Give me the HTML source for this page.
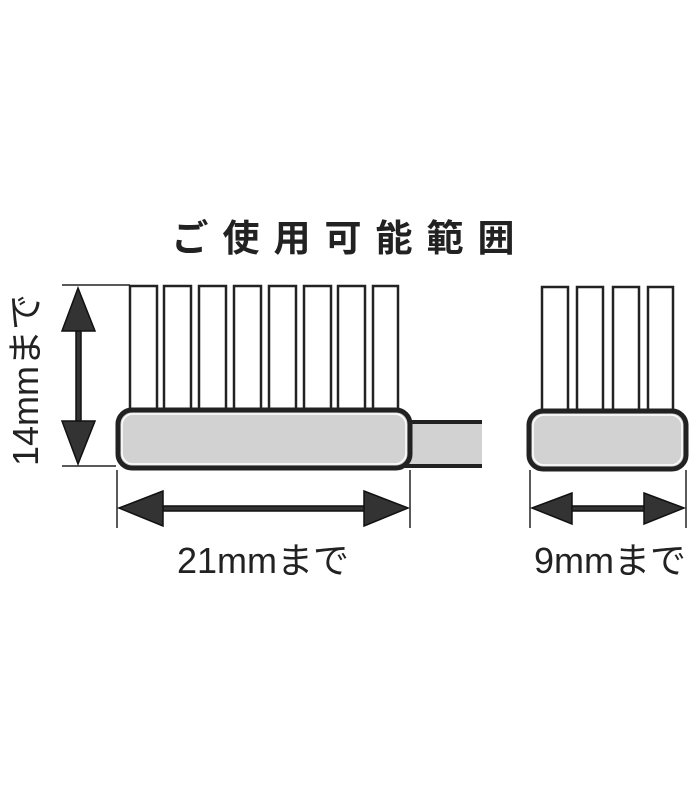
<!DOCTYPE html>
<html><head><meta charset="utf-8"><style>
html,body{margin:0;padding:0;background:#fff;width:700px;height:800px;overflow:hidden}
svg{display:block}
text{font-family:"Liberation Sans","Noto Sans CJK JP",sans-serif;fill:#222}
</style></head><body>
<svg width="700" height="800" viewBox="0 0 700 800" xmlns="http://www.w3.org/2000/svg">
<text x="350" y="251" font-size="37" font-weight="bold" text-anchor="middle" letter-spacing="14">ご使用可能範囲</text>

<!-- left bristles -->
<g fill="#fff" stroke="#222" stroke-width="2.5">
<rect x="130" y="286" width="27" height="130"/>
<rect x="164" y="286" width="27" height="130"/>
<rect x="199" y="286" width="27" height="130"/>
<rect x="234" y="286" width="27" height="130"/>
<rect x="269" y="286" width="27" height="130"/>
<rect x="304" y="286" width="27" height="130"/>
<rect x="338" y="286" width="27" height="130"/>
<rect x="373" y="286" width="25" height="130"/>
</g>
<!-- handle -->
<rect x="400" y="422" width="82" height="44" fill="#d2d2d2"/>
<line x1="400" y1="422" x2="482" y2="422" stroke="#222" stroke-width="4"/>
<line x1="400" y1="466" x2="482" y2="466" stroke="#222" stroke-width="4"/>
<!-- left head -->
<rect x="118" y="410" width="292" height="58" rx="14" fill="#d2d2d2" stroke="#222" stroke-width="5"/>
<rect x="122" y="414" width="284" height="50" rx="11" fill="none" stroke="#fff" stroke-width="1.5"/>

<!-- right bristles -->
<g fill="#fff" stroke="#222" stroke-width="2.5">
<rect x="542" y="287" width="26" height="129"/>
<rect x="577" y="287" width="26" height="129"/>
<rect x="613" y="287" width="26" height="129"/>
<rect x="648" y="287" width="25" height="129"/>
</g>
<rect x="529" y="411" width="157" height="58" rx="14" fill="#d2d2d2" stroke="#222" stroke-width="5"/>
<rect x="533" y="415" width="149" height="50" rx="11" fill="none" stroke="#fff" stroke-width="1.5"/>

<!-- dimension lines -->
<g stroke="#222" stroke-width="1.5">
<line x1="62" y1="285" x2="130" y2="285"/>
<line x1="62" y1="466" x2="116" y2="466"/>
<line x1="117" y1="470" x2="117" y2="528"/>
<line x1="410" y1="470" x2="410" y2="528"/>
<line x1="530" y1="470" x2="530" y2="528"/>
<line x1="686" y1="470" x2="686" y2="528"/>
</g>
<g fill="#333" stroke="#111" stroke-width="1.5">
<rect x="76" y="320" width="5" height="110"/>
<polygon points="78,288 62,331 95,331"/>
<polygon points="78,464 62,421 95,421"/>
<rect x="150" y="506" width="230" height="5"/>
<polygon points="119,508 163,491 163,526"/>
<polygon points="408,508 364,491 364,526"/>
<rect x="560" y="506" width="100" height="5"/>
<polygon points="532,508 572,493 572,524"/>
<polygon points="684,508 644,493 644,524"/>
</g>

<text x="263" y="573" font-size="36" text-anchor="middle">21mmまで</text>
<text x="610" y="573" font-size="36" text-anchor="middle">9mmまで</text>
<text transform="translate(38,380) rotate(-90)" font-size="36" text-anchor="middle">14mmまで</text>
</svg>
</body></html>
